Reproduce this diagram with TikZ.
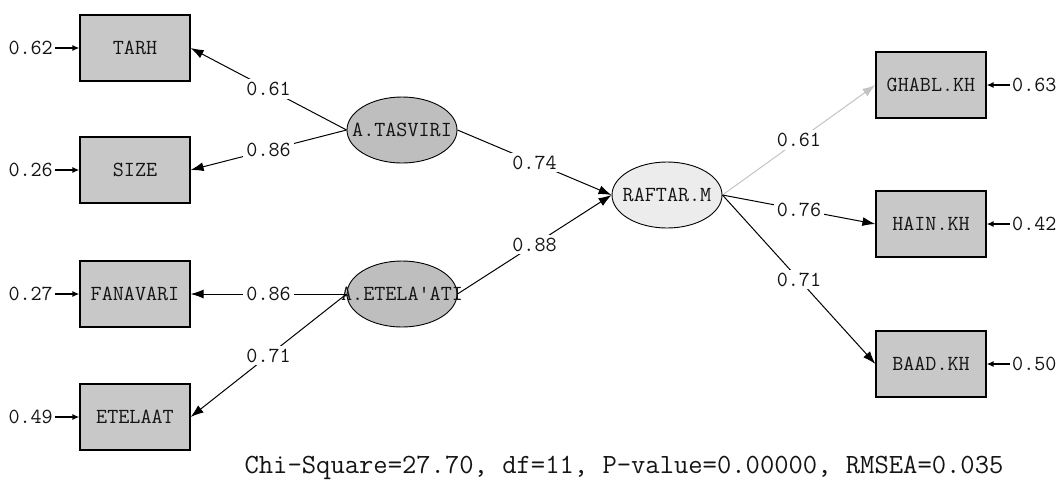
\documentclass[tikz,border=0pt]{standalone}
\usepackage{fontspec}
\usetikzlibrary{shapes.geometric,arrows.meta}
\definecolor{boxgray}{RGB}{200,200,200}
\definecolor{latgray}{RGB}{190,190,190}
\definecolor{latlight}{RGB}{236,236,236}
\definecolor{edgegray}{RGB}{195,195,195}
\definecolor{ink}{RGB}{20,20,20}
\begin{document}
\begin{tikzpicture}[x=1pt,y=-1pt,
  txt/.style={font=\ttfamily\fontsize{21.5}{23}\selectfont, text=ink},
  obs/.style={txt, draw=black, line width=1.2pt, fill=boxgray, minimum width=110pt, minimum height=66pt, inner sep=0pt},
  lat/.style={ellipse, draw=black, line width=0.9pt, minimum width=110pt, minimum height=66pt, inner sep=0pt},
  num/.style={txt, inner sep=2pt},
  pathlbl/.style={txt, fill=white, inner sep=3pt},
  load/.style={-{Latex[length=13pt,width=9pt]}, line width=1pt, draw=black},
  errarrow/.style={-{Latex[length=7pt,width=6pt]}, line width=1.6pt, draw=black}
]
\useasboundingbox (0,0) rectangle (1059,483);

% observed variables, left
\node[obs] (tarh) at (135,48) {TARH};
\node[obs] (size) at (135,170) {SIZE};
\node[obs] (fanavari) at (135,294) {FANAVARI};
\node[obs] (etelaat) at (135,417) {ETELAAT};

% observed variables, right
\node[obs] (ghabl) at (931,85) {GHABL.KH};
\node[obs] (hain) at (931,224) {HAIN.KH};
\node[obs] (baad) at (931,364) {BAAD.KH};

% latent variables
\node[lat, fill=latgray, label={[txt]center:A.TASVIRI}] (tasviri) at (402,130) {};
\node[lat, fill=latgray, label={[txt]center:A.ETELA\textquotesingle ATI}] (etelaati) at (402,294) {};
\node[lat, fill=latlight, label={[txt]center:RAFTAR.M}] (raftar) at (667,195) {};

% error terms
\node[num, anchor=east] (e1) at (55,48) {0.62};
\node[num, anchor=east] (e2) at (55,170) {0.26};
\node[num, anchor=east] (e3) at (55,294) {0.27};
\node[num, anchor=east] (e4) at (55,417) {0.49};
\node[num, anchor=west] (e5) at (1010,85) {0.63};
\node[num, anchor=west] (e6) at (1010,224) {0.42};
\node[num, anchor=west] (e7) at (1010,364) {0.50};

\draw[errarrow] (e1.east) -- (tarh.west);
\draw[errarrow] (e2.east) -- (size.west);
\draw[errarrow] (e3.east) -- (fanavari.west);
\draw[errarrow] (e4.east) -- (etelaat.west);
\draw[errarrow] (e5.west) -- (ghabl.east);
\draw[errarrow] (e6.west) -- (hain.east);
\draw[errarrow] (e7.west) -- (baad.east);

% loadings
\draw[load] (tasviri.west) -- node[pathlbl] (l1) {0.61} (tarh.east);
\draw[load] (tasviri.west) -- node[pathlbl] (l2) {0.86} (size.east);
\draw[load] (etelaati.west) -- node[pathlbl] (l3) {0.86} (fanavari.east);
\draw[load] (etelaati.west) -- node[pathlbl] (l4) {0.71} (etelaat.east);
\draw[load] (tasviri.east) -- node[pathlbl] (l5) {0.74} (raftar.west);
\draw[load] (etelaati.east) -- node[pathlbl] (l6) {0.88} (raftar.west);
\draw[load, draw=edgegray, -{Latex[length=13pt,width=9pt,fill=edgegray]}] (raftar.east) -- node[pathlbl] (l7) {0.61} (ghabl.west);
\draw[load] (raftar.east) -- node[pathlbl] (l8) {0.76} (hain.west);
\draw[load] (raftar.east) -- node[pathlbl] (l9) {0.71} (baad.west);

% fit statistics
\node[txt, font=\ttfamily\fontsize{27.8}{30}\selectfont, inner sep=0pt] (fit) at (624,468) {Chi-Square=27.70, df=11, P-value=0.00000, RMSEA=0.035};
\end{tikzpicture}
\end{document}
